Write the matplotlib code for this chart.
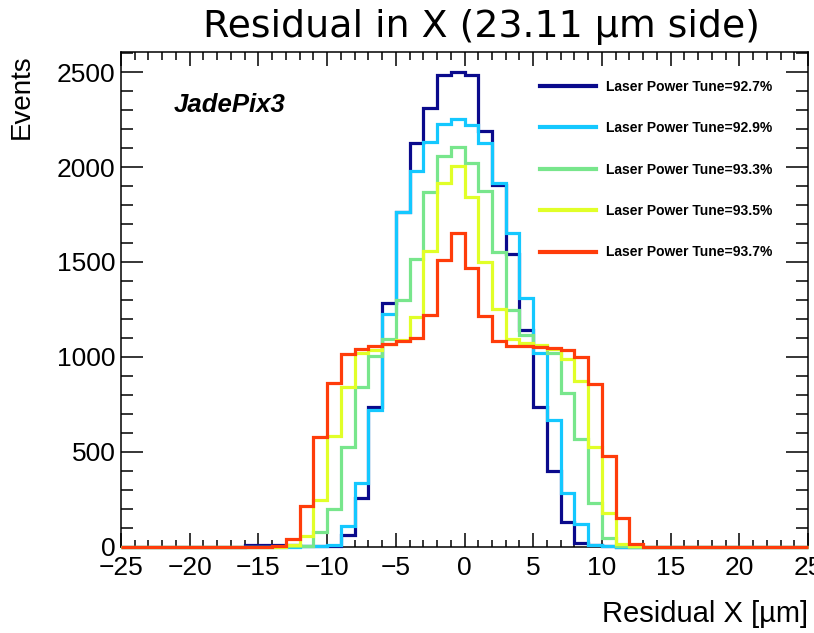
import numpy as np
import matplotlib
matplotlib.use('Agg')
import matplotlib.pyplot as plt
from matplotlib.ticker import MultipleLocator

plt.rcParams['font.family'] = ['Liberation Sans', 'DejaVu Sans']

# bin edges: 50 bins of 1 um from -25 to 25
edges = np.arange(-25, 26, 1)

labels = ['Laser Power Tune=92.7%', 'Laser Power Tune=92.9%', 'Laser Power Tune=93.3%',
          'Laser Power Tune=93.5%', 'Laser Power Tune=93.7%']
colors = ['#0a0a8c', '#14c8ff', '#78e68c', '#e1ff28', '#ff3c0a']

#            -25 ... -16                      -15 ... -6                                      -5 ... 4                                                   5 ... 14                                  15 ... 24
tune_927 = [0, 0, 0, 0, 0, 0, 0, 0, 0, 8,     8, 8, 8, 3, 3, 5, 62, 255, 735, 1286,             1764, 2125, 2310, 2486, 2503, 2486, 2192, 1905, 1544, 1143,   736, 399, 128, 17, 8, 2, 0, 0, 0, 0,     0, 0, 0, 0, 0, 0, 0, 0, 0, 0]
tune_929 = [0, 0, 0, 0, 0, 0, 0, 0, 0, 0,     0, 0, 0, 2, 5, 8, 106, 335, 718, 1228,           1764, 1979, 2134, 2227, 2252, 2222, 2125, 1914, 1650, 1310,   1020, 666, 284, 117, 8, 2, 0, 0, 0, 0,   0, 0, 0, 0, 0, 0, 0, 0, 0, 0]
tune_933 = [0, 0, 0, 0, 0, 0, 0, 0, 0, 0,     0, 0, 2, 5, 78, 200, 522, 842, 1006, 1094,       1298, 1518, 1870, 2060, 2107, 2019, 1873, 1550, 1245, 1117,   1055, 1020, 809, 566, 231, 47, 5, 0, 0, 0, 0, 0, 0, 0, 0, 0, 0, 0, 0, 0]
tune_935 = [0, 0, 0, 0, 0, 0, 0, 0, 0, 0,     0, 0, 10, 55, 244, 583, 839, 1020, 1037, 1069,   1090, 1210, 1558, 1914, 2005, 1843, 1500, 1254, 1094, 1075,   1060, 1040, 988, 874, 522, 175, 14, 2, 0, 0, 0, 0, 0, 0, 0, 0, 0, 0, 0, 0]
tune_937 = [0, 0, 0, 0, 0, 0, 0, 0, 0, 0,     0, 2, 38, 214, 578, 860, 1015, 1041, 1055, 1069, 1081, 1100, 1220, 1511, 1652, 1467, 1215, 1081, 1059, 1055,   1050, 1046, 1037, 999, 856, 478, 152, 12, 0, 0, 0, 0, 0, 0, 0, 0, 0, 0, 0, 0]

series = [tune_927, tune_929, tune_933, tune_935, tune_937]

fig = plt.figure(figsize=(8.14, 6.33), dpi=100)
ax = fig.add_axes([121 / 814, 86.5 / 633, 687 / 814, 494.2 / 633])

for vals, col, lab in zip(series, colors, labels):
    ax.stairs(vals, edges, color=col, lw=2.3, label=lab, zorder=3, clip_on=False)

ax.set_xlim(-25, 25)
ax.set_ylim(0, 2605)

ax.xaxis.set_major_locator(MultipleLocator(5))
ax.xaxis.set_minor_locator(MultipleLocator(1))
ax.yaxis.set_major_locator(MultipleLocator(500))
ax.yaxis.set_minor_locator(MultipleLocator(100))
ax.tick_params(axis='both', which='both', direction='in', top=True, right=True, width=1.1)
ax.tick_params(axis='x', which='major', length=10, labelsize=19, pad=7)
ax.tick_params(axis='x', which='minor', length=5.4)
ax.tick_params(axis='y', which='major', length=16, labelsize=19, pad=4)
ax.tick_params(axis='y', which='minor', length=8.6)
for s in ax.spines.values():
    s.set_linewidth(1.1)

ax.set_ylabel('Events', fontsize=20, loc='top')
ax.yaxis.set_label_coords(-0.125, 0.995)
ax.set_xlabel('Residual X [\u00b5m]', fontsize=21, loc='right')
ax.xaxis.set_label_coords(1.0, -0.108)

ax.text(-21.2, 2328, 'JadePix3', fontsize=18.5, fontweight='bold', fontstyle='italic',
        va='center', ha='left')

leg = ax.legend(loc='upper left', bbox_to_anchor=((540 - 121) / 687, (546.5 - 80) / 494.2),
                frameon=False, handlelength=4.0, handletextpad=0.75,
                labelspacing=1.97, borderpad=0, borderaxespad=0,
                prop={'weight': 'bold', 'size': 10})
for h in leg.get_lines():
    h.set_linewidth(3)

fig.text(482 / 814, 1 - 27 / 633, 'Residual in X (23.11 \u00b5m side)', fontsize=27.3,
         family='DejaVu Sans', ha='center', va='center')

fig.savefig('out.png', dpi=100)
